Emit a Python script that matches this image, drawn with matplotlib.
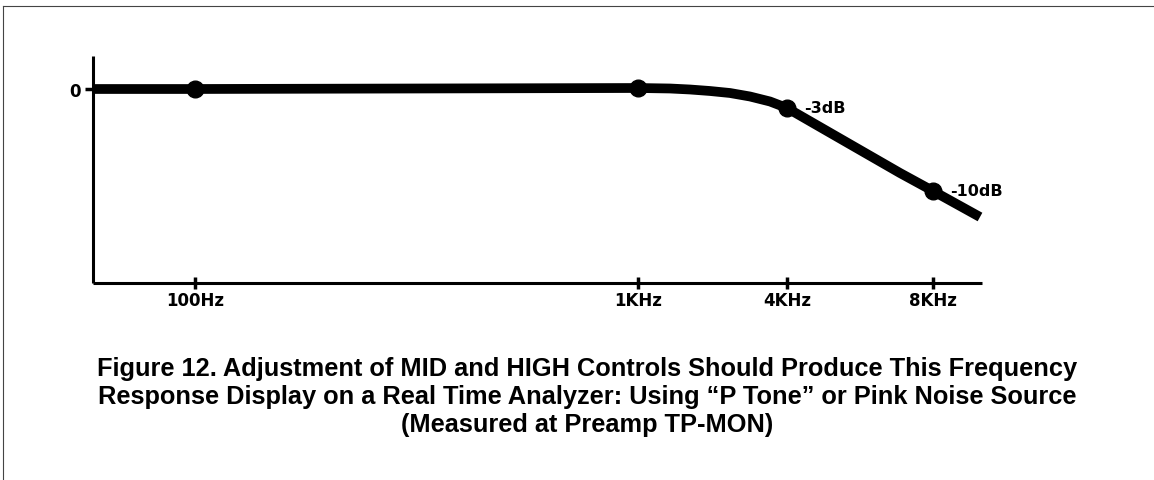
import matplotlib
matplotlib.use("Agg")
import matplotlib.pyplot as plt
from matplotlib.lines import Line2D

# positions along the analyzer display (not a true log scale)
tick_pos = [1.95, 6.38, 7.87, 9.33]
tick_labels = ["100Hz", "1KHz", "4KHz", "8KHz"]

# response curve as drawn on the display (level units, 0 = reference)
curve_x = [0.93, 1.95, 6.38, 6.7, 6.9, 7.1, 7.3, 7.5, 7.7, 7.87, 8.2, 8.6, 9.0, 9.33, 9.80]
curve_y = [0.0, 0.0, 0.1, 0.05, -0.05, -0.2, -0.4, -0.75, -1.25, -1.9, -3.8, -6.1, -8.4, -10.2, -12.8]

# measured points
point_x = [1.95, 6.38, 7.87, 9.33]
point_y = [0.0, 0.1, -1.9, -10.2]
point_labels = ["", "", "-3dB", "-10dB"]

caption = ("Figure 12. Adjustment of MID and HIGH Controls Should Produce This Frequency\n"
           "Response Display on a Real Time Analyzer: Using \u201cP Tone\u201d or Pink Noise Source\n"
           "(Measured at Preamp TP-MON)")

W, H = 1154, 481
fig = plt.figure(figsize=(W / 100, H / 100), dpi=100)
ax = fig.add_axes([93 / W, 1 - 284 / H, (982 - 93) / W, (284 - 57) / H])

ax.plot(curve_x, curve_y, color="black", lw=7, solid_capstyle="butt",
        solid_joinstyle="round", clip_on=False, zorder=3)
ax.plot(point_x, point_y, "o", color="black", ms=12, clip_on=False, zorder=4)
for x, y, lab in zip(point_x, point_y, point_labels):
    if lab:
        ax.annotate(lab, (x, y), xytext=(12, 0), textcoords="offset points",
                    ha="left", va="center", fontsize=11.5, fontweight="bold",
                    family="DejaVu Sans")

ax.set_xlim(0.93, 9.82)
ax.set_ylim(-19.4, 3.3)
for s in ["top", "right"]:
    ax.spines[s].set_visible(False)
for s in ["left", "bottom"]:
    ax.spines[s].set_linewidth(2.2)
    ax.spines[s].set_capstyle("butt")

ax.set_xticks(tick_pos)
ax.set_xticklabels(tick_labels, fontsize=12, fontweight="bold", family="DejaVu Sans")
ax.tick_params(axis="x", direction="inout", length=9, width=2.5, pad=1.5)
ax.set_yticks([0])
ax.set_yticklabels(["0"], fontsize=12, fontweight="bold", family="DejaVu Sans")
ax.tick_params(axis="y", direction="out", length=6, width=2.5, pad=3)

fig.text(587 / W, 1 - 397 / H, caption, ha="center", va="center",
         multialignment="center", fontsize=18.3, fontweight="bold",
         family="Liberation Sans", linespacing=1.2)

# thin frame around the figure
fig.add_artist(Line2D([3 / W, 3 / W], [0, 1 - 7 / H], color="#444", lw=0.8))
fig.add_artist(Line2D([3 / W, 1], [1 - 7 / H, 1 - 7 / H], color="#444", lw=0.8))

fig.savefig("out.png", dpi=100)
